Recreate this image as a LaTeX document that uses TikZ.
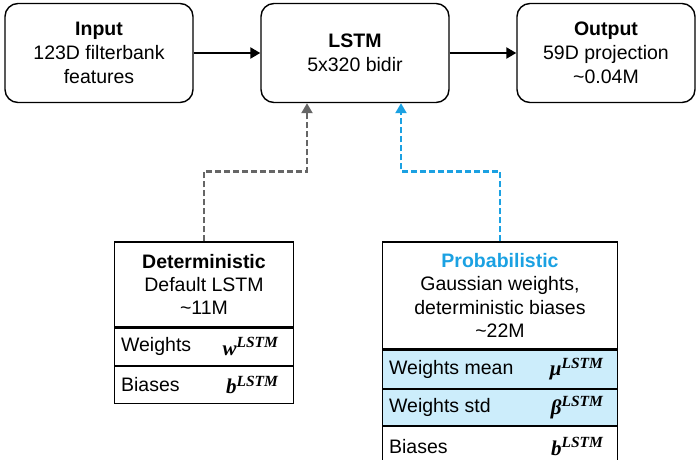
\documentclass[tikz,border=0pt]{standalone}
\usepackage{fontspec}
\setmainfont{Liberation Sans}
\newfontfamily\symfont{Liberation Serif}
\usetikzlibrary{arrows.meta,calc}

\definecolor{probblue}{RGB}{27,161,226}
\definecolor{rowblue}{RGB}{204,237,251}
\definecolor{linkgray}{RGB}{102,102,102}

% bold italic serif symbol with LSTM superscript
\newcommand{\paramsym}[1]{{\symfont\bfseries\itshape\fontsize{21}{21}\selectfont #1\raisebox{0.36em}{\fontsize{15.5}{15.5}\selectfont LSTM}}}

\tikzset{
  stage/.style={draw=black, line width=1.4pt, rounded corners=13pt,
    minimum width=188pt, minimum height=99pt, align=center,
    inner sep=0pt},
  headbox/.style={draw=black, line width=1.2pt, align=center, inner sep=0pt},
  rowbox/.style={draw=black, line width=1.2pt, inner sep=0pt},
  rowlabel/.style={anchor=west, inner sep=0pt},
  rowsym/.style={anchor=east, inner sep=0pt},
  flow/.style={draw=black, line width=2.2pt, -{Triangle[length=10pt,width=11pt]}},
  detlink/.style={draw=linkgray, line width=2.2pt, dash pattern=on 6pt off 3pt,
    -{Triangle[length=10pt,width=11pt]}},
  problink/.style={draw=probblue, line width=2.2pt, dash pattern=on 6pt off 3pt,
    -{Triangle[length=10pt,width=11pt]}},
}

\begin{document}
\begin{tikzpicture}[x=1pt,y=-1pt,font=\fontsize{19.5}{24}\selectfont]
\useasboundingbox (0,0) rectangle (697,459);
\clip (0,0) rectangle (697,459);

% pipeline stages
\node[stage] (input) at (99,53) {\textbf{Input}\\123D filterbank\\features};
\node[stage] (lstm) at (355,53) {\textbf{LSTM}\\5x320 bidir};
\node[stage, minimum width=178pt] (output) at (606,53) {\textbf{Output}\\59D projection\\\textasciitilde0.04M};

\draw[flow] (input.east) -- (lstm.west);
\draw[flow] (lstm.east) -- (output.west);

% deterministic parameter table
\node[headbox, minimum width=179pt, minimum height=85pt,
  font=\fontsize{19.5}{23}\selectfont] (det) at (204,284.5)
  {\textbf{Deterministic}\\Default LSTM\\\textasciitilde11M};
\node[rowbox, minimum width=179pt, minimum height=37pt, anchor=north] (detw) at (det.south) {};
\node[rowbox, minimum width=179pt, minimum height=37pt, anchor=north] (detb) at (detw.south) {};
\node[rowlabel] (detwl) at ([xshift=7pt]detw.west) {Weights};
\node[rowsym] (detws) at ([xshift=-16pt]detw.east) {\paramsym{w}};
\node[rowlabel] (detbl) at ([xshift=7pt]detb.west) {Biases};
\node[rowsym] (detbs) at ([xshift=-16pt]detb.east) {\paramsym{b}};

% probabilistic parameter table
\node[headbox, minimum width=235pt, minimum height=107pt,
  font=\fontsize{19.5}{23.5}\selectfont] (prob) at (500,295.5)
  {\textcolor{probblue}{\textbf{Probabilistic}}\\Gaussian weights,\\deterministic biases\\\textasciitilde22M};
\node[rowbox, fill=rowblue, minimum width=235pt, minimum height=38pt, anchor=north] (probm) at (prob.south) {};
\node[rowbox, fill=rowblue, minimum width=235pt, minimum height=36pt, anchor=north] (probs) at (probm.south) {};
\node[rowbox, minimum width=235pt, minimum height=40pt, anchor=north] (probb) at (probs.south) {};
\node[rowlabel] (probml) at ([xshift=7pt]probm.west) {Weights mean};
\node[rowsym] (probms) at ([xshift=-15pt]probm.east) {\paramsym{μ}};
\node[rowlabel] (probsl) at ([xshift=7pt]probs.west) {Weights std};
\node[rowsym] (probss) at ([xshift=-15pt]probs.east) {\paramsym{β}};
\node[rowlabel] (probbl) at ([xshift=7pt]probb.west) {Biases};
\node[rowsym] (probbs) at ([xshift=-15pt]probb.east) {\paramsym{b}};

% parameter links into the LSTM
\draw[detlink] (det.north) -- ++(0,-70) -| ([xshift=-48pt]lstm.south);
\draw[problink] (prob.north) -- ++(0,-70) -| ([xshift=46pt]lstm.south);
\end{tikzpicture}
\end{document}
